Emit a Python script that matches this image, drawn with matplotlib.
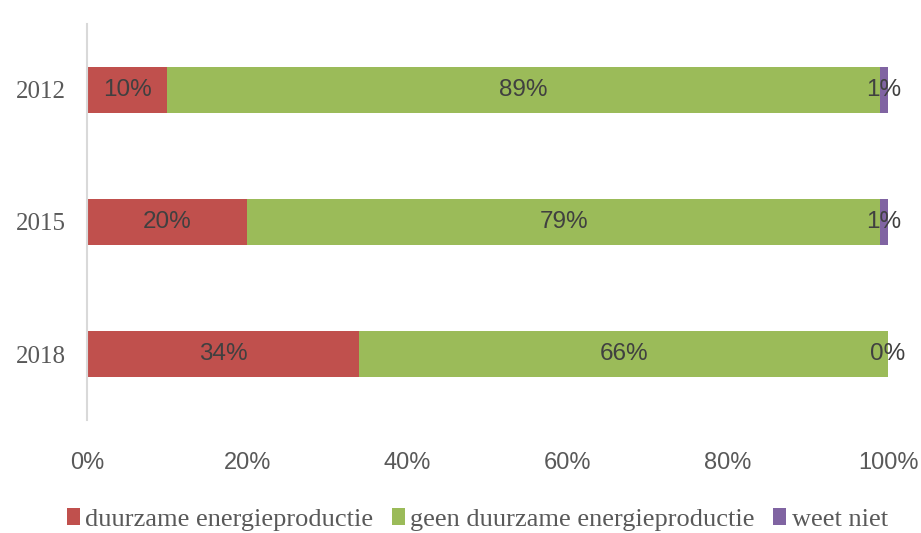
import numpy as np
import matplotlib.pyplot as plt
from matplotlib import rcParams

rcParams['font.family'] = 'sans-serif'
rcParams['font.sans-serif'] = ['Liberation Sans']

years = ['2012', '2015', '2018']
series = ['duurzame energieproductie', 'geen duurzame energieproductie', 'weet niet']
duurzaam = [10, 20, 34]
geen = [89, 79, 66]
weet_niet = [1, 1, 0]
colors = ['#C0504D', '#9BBB59', '#8064A2']

fig = plt.figure(figsize=(9.21, 5.33), dpi=100)
ax = fig.add_axes([0.0945, 0.212, 0.8697, 0.743])

ypos = np.arange(len(years))
left = np.zeros(len(years))
bars = []
for vals, name, col in zip([duurzaam, geen, weet_niet], series, colors):
    b = ax.barh(ypos, vals, left=left, height=0.35, color=col, label=name)
    for y, l, v in zip(ypos, left, vals):
        ax.text(l + v / 2., y, '%d%%' % v, ha='center', va='center',
                fontsize=17.5, color='#404040')
    left = left + np.array(vals)
    bars.append(b)

ax.set_xlim(0, 100)
ax.set_ylim(len(years) - 0.5, -0.5)
ax.set_yticks(ypos)
ax.set_yticklabels(years, family='Liberation Serif', fontsize=18, color='#595959')
ax.set_xticks(np.arange(0, 101, 20))
ax.set_xticklabels(['%d%%' % t for t in range(0, 101, 20)], fontsize=17, color='#595959')
ax.tick_params(axis='x', length=0, pad=23)
ax.tick_params(axis='y', length=0, pad=15)

for s in ['top', 'right', 'bottom']:
    ax.spines[s].set_visible(False)
ax.spines['left'].set_color('#D9D9D9')
ax.spines['left'].set_linewidth(1.5)

leg = fig.legend(handles=bars, labels=series, loc='lower center',
                 bbox_to_anchor=(0.518, -0.04), ncol=3, frameon=False,
                 prop={'family': 'Liberation Serif', 'size': 19},
                 handlelength=0.5, handleheight=0.6, handletextpad=0.2,
                 columnspacing=0.7, labelcolor='#595959')

plt.savefig('out.png', dpi=100)
